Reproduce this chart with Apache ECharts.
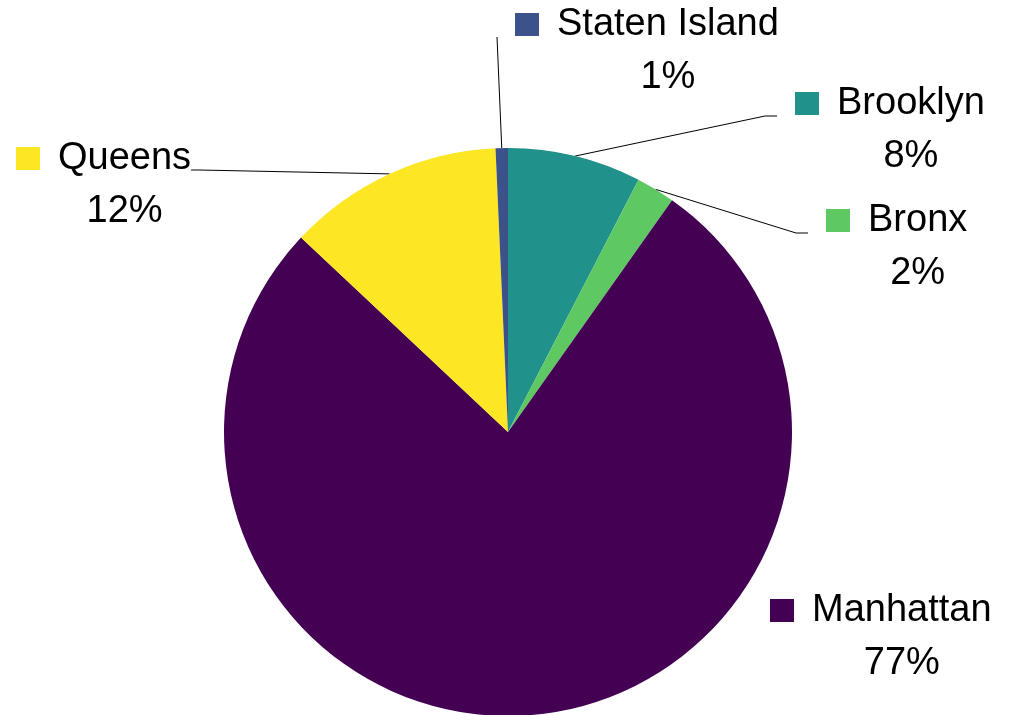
<!DOCTYPE html>
<html>
<head>
<meta charset="utf-8">
<script src="https://cdn.jsdelivr.net/npm/echarts@6/dist/echarts.min.js"></script>
<style>
  html, body { margin: 0; padding: 0; background: #fff; }
  #chart { width: 1009px; height: 715px; }
</style>
</head>
<body>
<div id="chart"></div>
<script>
// data, clockwise from 12 o'clock
var boroughs = ['Brooklyn', 'Bronx', 'Manhattan', 'Queens', 'Staten Island'];
var shares = [7.6, 2.2, 77.2, 12.3, 0.7];
var colors = ['#21918c', '#5ec962', '#440154', '#fde725', '#3b528b'];

// where each label block sits (left edge, vertical middle) and which side the leader comes in from
var labelPos = [[795, 130], [826, 247], [770, 637], [16, 185], [515, 51]];
var lineSide = ['left', 'left', 'none', 'right', 'left'];

var myChart = echarts.init(document.getElementById('chart'));

var tok = { align: 'center', verticalAlign: 'middle' };
var data = [];
for (var i = 0; i < boroughs.length; i++) {
  data.push({
    name: boroughs[i],
    value: shares[i],
    itemStyle: { color: colors[i] },
    labelLine: { show: lineSide[i] != 'none' },
    label: {
      rich: {
        sq: { width: 24, height: 23, backgroundColor: colors[i], align: 'center', verticalAlign: 'middle' },
        g: { width: 18, align: 'center' },
        sp: { width: 42, align: 'center' },
        t: tok
      }
    }
  });
}

var option = {
  animation: false,
  series: [{
    type: 'pie',
    center: [508, 432],
    radius: 284,
    startAngle: 90,
    clockwise: true,
    percentPrecision: 0,
    avoidLabelOverlap: false,
    emphasis: { disabled: true },
    itemStyle: { borderWidth: 0 },
    label: {
      show: true,
      position: 'outside',
      fontFamily: 'Liberation Sans',
      fontSize: 38,
      lineHeight: 53,
      color: '#000',
      formatter: '{sq|}{g|}{t|{b}}\n{sp|}{t|{d}%}'
    },
    labelLine: {
      show: true,
      smooth: false,
      lineStyle: { color: '#000', width: 1 }
    },
    labelLayout: function(params) {
      var i = params.dataIndex;
      var x = labelPos[i][0], y = labelPos[i][1];
      var res = { x: x, y: y, align: 'left', verticalAlign: 'middle' };
      var p0 = params.labelLinePoints ? params.labelLinePoints[0] : null;
      if (p0 && lineSide[i] == 'left') {
        var ex = x - 18, ey = y - 14;
        var bx = (i == 4) ? ex : ex - 12;
        res.labelLinePoints = [p0, [bx, ey], [ex, ey]];
      } else if (p0 && lineSide[i] == 'right') {
        var rx = x + params.labelRect.width, ry = y - 15;
        res.labelLinePoints = [p0, [rx + 8, ry], [rx, ry]];
      }
      return res;
    },
    data: data
  }]
};
myChart.setOption(option);
</script>
</body>
</html>
